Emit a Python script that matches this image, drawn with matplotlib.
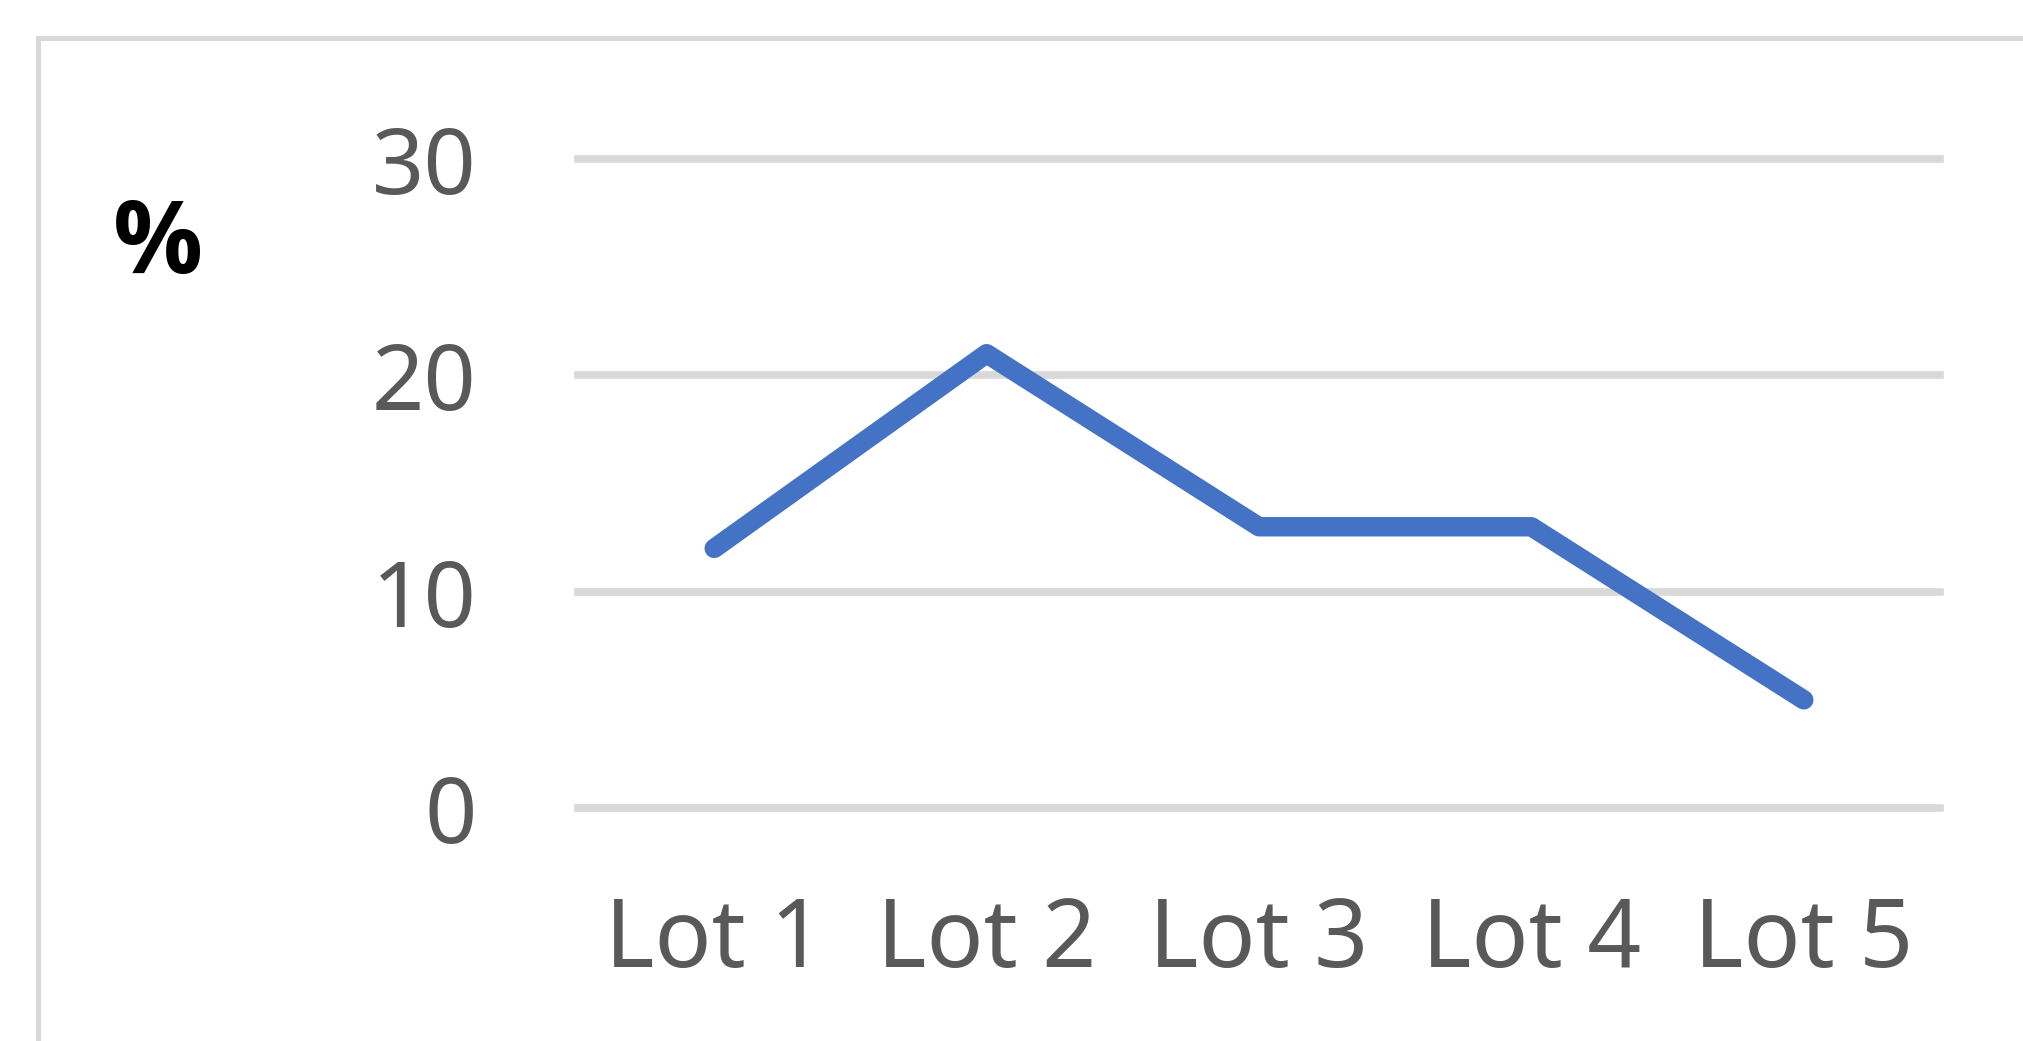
import matplotlib
matplotlib.use("Agg")
import matplotlib.pyplot as plt
from matplotlib.lines import Line2D

categories = ["Lot 1", "Lot 2", "Lot 3", "Lot 4", "Lot 5"]
values = [12, 21, 13, 13, 5]
yticks = [0, 10, 20, 30]
ylabel = "%"

W, H = 2024, 1041
fig = plt.figure(figsize=(W / 100, H / 100), dpi=100)
fig.patch.set_facecolor("white")

# outer frame (light gray), extends past right and bottom
fx, fy = 38 / W, 1 - 38 / H
fig.add_artist(Line2D([fx, 1.0], [fy, fy], transform=fig.transFigure, color="#d9d9d9", lw=3.6))
fig.add_artist(Line2D([fx, fx], [fy, 0.0], transform=fig.transFigure, color="#d9d9d9", lw=3.6))

ax = fig.add_axes([578 / W, 233 / H, 1362 / W, 649 / H])
x = list(range(len(categories)))
ax.plot(x, values, color="#4472C4", lw=14, solid_capstyle="round", solid_joinstyle="round", zorder=3)
ax.set_xlim(-0.5, len(categories) - 0.5)
ax.set_ylim(0, 30)
ax.set_yticks(yticks)
ax.set_xticks(x)
ax.set_xticklabels(categories)
ax.yaxis.grid(True, color="#d9d9d9", lw=5.5)
ax.set_axisbelow(True)
for s in ax.spines.values():
    s.set_visible(False)
ax.tick_params(axis="both", length=0, colors="#595959", labelsize=66)
ax.tick_params(axis="y", pad=73)
ax.tick_params(axis="x", pad=63)
for lab in ax.get_yticklabels():
    lab.set_fontfamily("Noto Sans")
for lab in ax.get_xticklabels():
    lab.set_fontfamily("Noto Sans")
    lab.set_fontsize(68)
for gl in ax.yaxis.get_gridlines():
    gl.set_clip_on(False)

fig.text(158 / W, 1 - 246 / H, ylabel, ha="center", va="center", fontsize=72,
         fontweight="bold", color="black", family="Open Sans")

fig.savefig("out.png", dpi=100, facecolor="white")
